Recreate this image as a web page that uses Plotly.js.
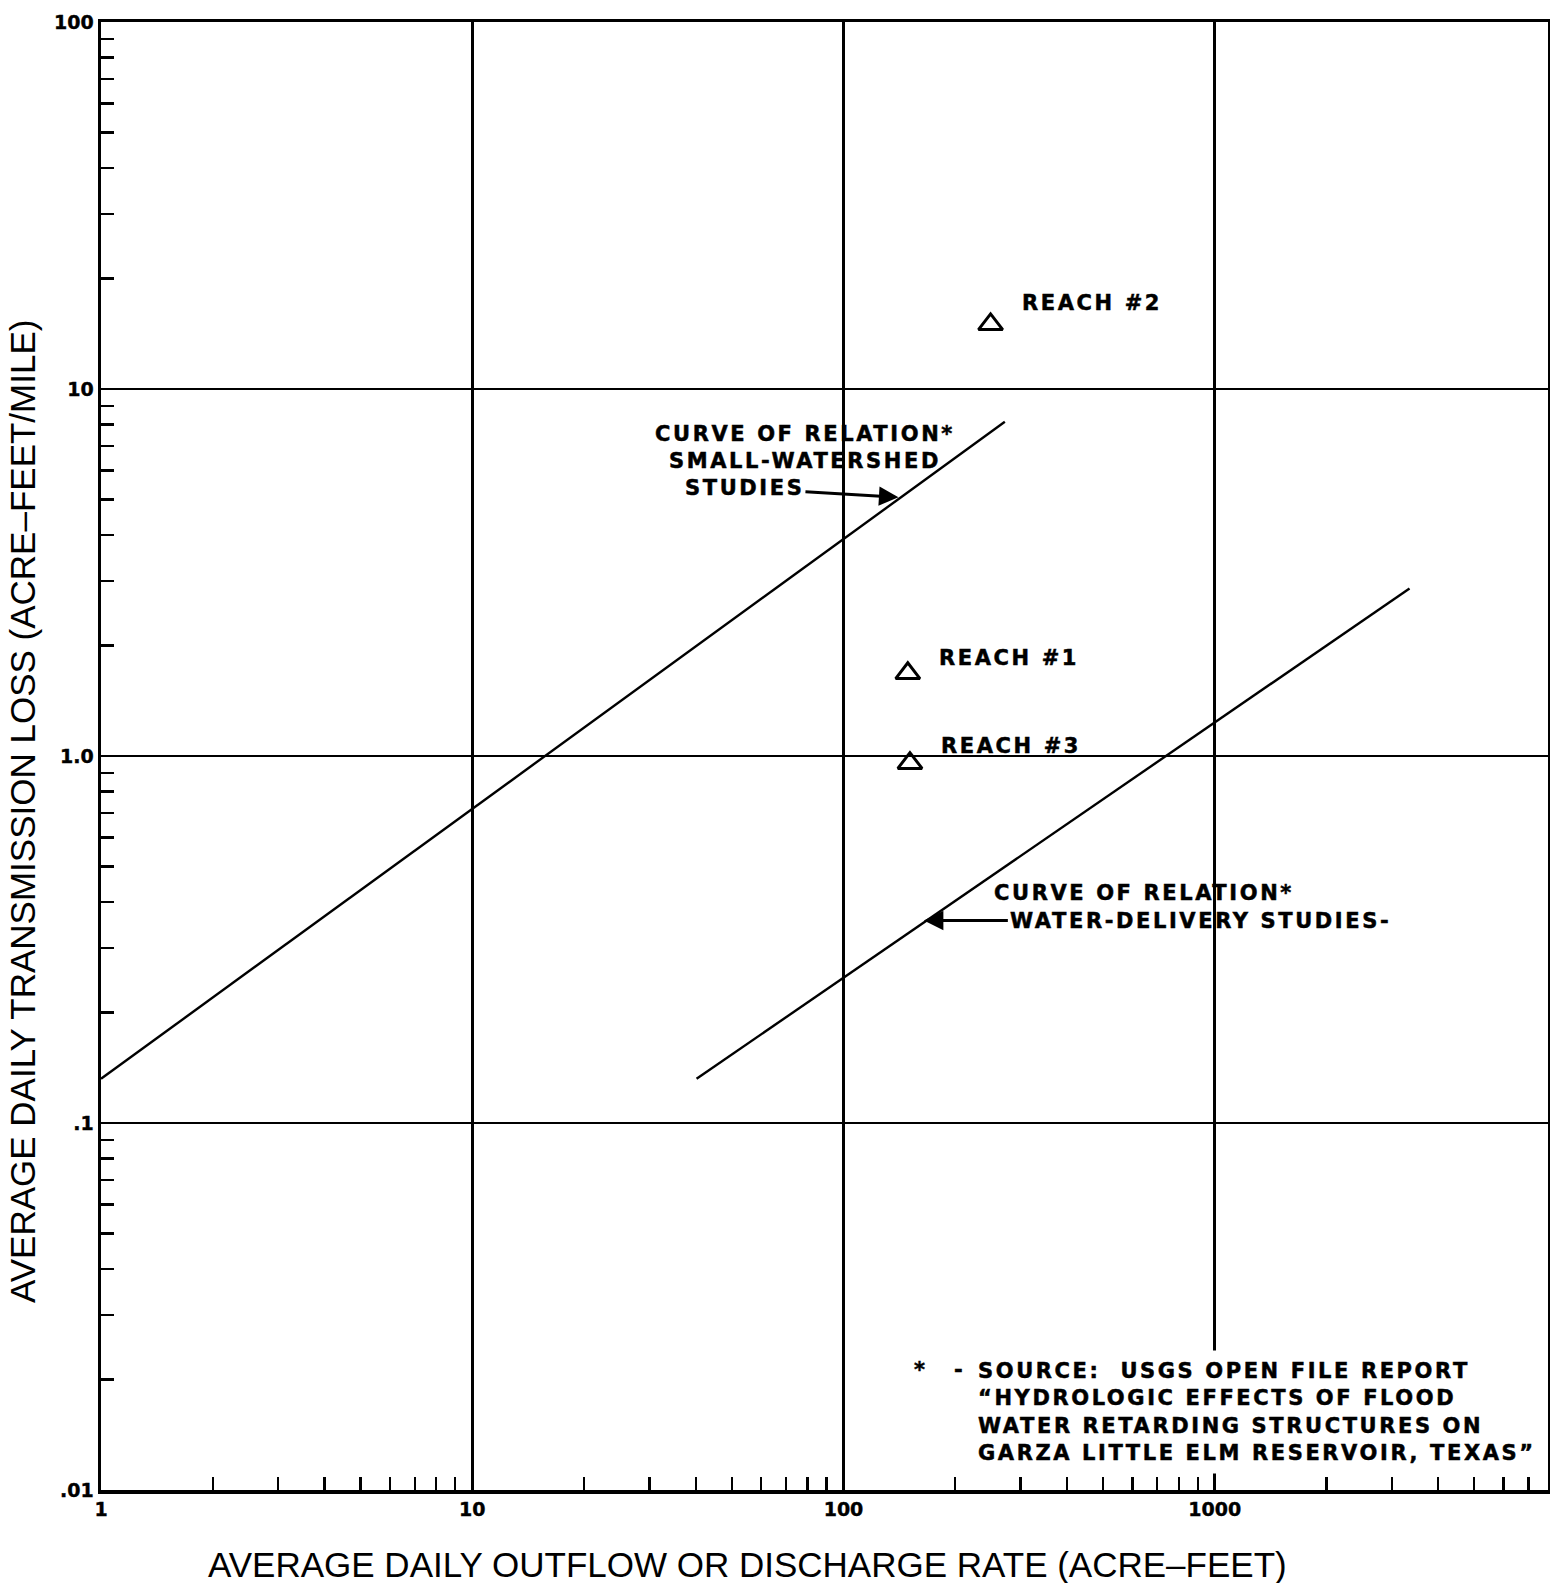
<!DOCTYPE html>
<html><head><meta charset="utf-8">
<script src="https://cdn.plot.ly/plotly-3.0.1.min.js"></script>
<style>
html,body{margin:0;padding:0;background:#fff;}
#chart{width:1550px;height:1583px;}
.annotation-text{letter-spacing:2.6px;stroke:#000;stroke-width:0.5px;}
.xtick text,.ytick text{stroke:#000;stroke-width:0.4px;}
</style></head><body><div id="chart"></div>
<script>
// ---- data ----
const smallWatershedX = [1, 272];
const smallWatershedY = [0.132, 8.14];
const waterDeliveryX = [40.2, 3347];
const waterDeliveryY = [0.132, 2.86];
const reachNames = ['REACH #1', 'REACH #2', 'REACH #3'];
const reachX = [149, 249, 151];
const reachY = [1.68, 15.0, 0.956];
const xTickVals = [1, 10, 100, 1000];
const xTickText = ['1', '10', '100', '1000'];
const yTickVals = [0.01, 0.1, 1, 10, 100];
const yTickText = ['.01', '.1', '1.0', '10', '100'];
const xTitle = 'AVERAGE DAILY OUTFLOW OR DISCHARGE RATE (ACRE\u2013FEET)';
const yTitle = 'AVERAGE DAILY TRANSMISSION LOSS (ACRE\u2013FEET/MILE)';
const smallLabel = ['CURVE OF RELATION*', 'SMALL-WATERSHED'];
const smallArrowText = 'STUDIES';
const waterLabel = 'CURVE OF RELATION*';
const waterArrowText = 'WATER-DELIVERY STUDIES-';
const sourceNote = ['SOURCE:\u00a0\u00a0USGS OPEN FILE REPORT', '\u201cHYDROLOGIC EFFECTS OF FLOOD', 'WATER RETARDING STRUCTURES ON', 'GARZA LITTLE ELM RESERVOIR, TEXAS\u201d'];
// annotation anchors (data values)
const smallArrowTip = [140.6, 5.07];
const waterArrowTip = [164.6, 0.356];

const L = Math.log10;
const F = 'DejaVu Sans, sans-serif';
const TF = 'Liberation Sans, Arial, sans-serif';
const black = '#000';

const minorX = [], minorY = [];
[1, 10, 100, 1000].forEach(d => { for (let k = 2; k <= 9; k++) minorX.push(d * k); });
[0.01, 0.1, 1, 10].forEach(d => { for (let k = 2; k <= 9; k++) minorY.push(d * k); });

const traces = [
  {x: smallWatershedX, y: smallWatershedY, mode: 'lines', line: {color: black, width: 2.4}, hoverinfo: 'skip'},
  {x: waterDeliveryX, y: waterDeliveryY, mode: 'lines', line: {color: black, width: 2.4}, hoverinfo: 'skip'},
  {x: reachX, y: reachY, mode: 'markers', text: reachNames,
   marker: {symbol: 'triangle-up-open', size: 21, color: black, line: {color: black, width: 3}}}
];

const labFont = {family: F, size: 21, color: black, weight: 'bold'};
const annotations = [];
// reach labels
reachNames.forEach((n, i) => annotations.push({
  x: L(reachX[i]), y: L(reachY[i]), xref: 'x', yref: 'y', text: n, showarrow: false,
  xanchor: 'left', yanchor: 'middle', xshift: 29, yshift: [15, 21, 17][i], font: labFont
}));
// small-watershed curve label
annotations.push({x: L(smallArrowTip[0]), y: L(smallArrowTip[1]), xref: 'x', yref: 'y',
  text: smallLabel.join('<br>'), showarrow: false, xanchor: 'center', yanchor: 'bottom',
  xshift: -93, yshift: 22, font: labFont});
annotations.push({x: L(smallArrowTip[0]), y: L(smallArrowTip[1]), xref: 'x', yref: 'y',
  text: smallArrowText, showarrow: true, arrowhead: 2, arrowsize: 1.3, arrowwidth: 3,
  arrowcolor: black, ax: -154, ay: -9, xanchor: 'center', yanchor: 'middle', font: labFont});
// water-delivery curve label
annotations.push({x: L(waterArrowTip[0]), y: L(waterArrowTip[1]), xref: 'x', yref: 'y',
  text: waterLabel, showarrow: false, xanchor: 'left', yanchor: 'middle',
  xshift: 68, yshift: 28, font: labFont});
annotations.push({x: L(waterArrowTip[0]), y: L(waterArrowTip[1]), xref: 'x', yref: 'y',
  text: waterArrowText, showarrow: true, arrowhead: 2, arrowsize: 1.3, arrowwidth: 3,
  arrowcolor: black, ax: 84, ay: 0, xanchor: 'left', yanchor: 'middle', font: labFont});
// source note
annotations.push({x: 2.339, y: -1.787, xref: 'x', yref: 'y', text: sourceNote.join('<br>'),
  showarrow: false, xanchor: 'left', yanchor: 'middle', align: 'left', bgcolor: '#fff',
  borderpad: 8, font: labFont});
annotations.push({x: 2.208, y: -1.672, xref: 'x', yref: 'y', text: '*', showarrow: false,
  xanchor: 'center', yanchor: 'middle', font: labFont});
annotations.push({x: 2.293, y: -1.672, xref: 'x', yref: 'y', text: '-', showarrow: false,
  xanchor: 'left', yanchor: 'middle', font: labFont});
// axis titles (plain letter spacing, no stroke)
const plain = s => '<span style="letter-spacing:0px;stroke-width:0px">' + s + '</span>';
annotations.push({xref: 'paper', yref: 'paper', x: 0.447, y: -0.051, text: plain(xTitle), showarrow: false,
  xanchor: 'center', yanchor: 'middle', font: {family: TF, size: 35, color: black}});
annotations.push({xref: 'paper', yref: 'paper', x: -0.0546, y: 0.4625, text: plain(yTitle), showarrow: false,
  textangle: -90, xanchor: 'center', yanchor: 'middle', font: {family: TF, size: 35, color: black}});

const tickFont = {family: F, size: 19, color: black, weight: 'bold'};
const axisBase = {
  type: 'log', tickmode: 'array', ticks: '', tickfont: tickFont,
  showgrid: true, gridcolor: black, gridwidth: 2.6,
  showline: true, linecolor: black, linewidth: 3.5, mirror: true, zeroline: false, automargin: false
};
const layout = {
  width: 1550, height: 1583,
  margin: {l: 101, r: 2, t: 22, b: 93},
  paper_bgcolor: '#fff', plot_bgcolor: '#fff',
  showlegend: false,
  xaxis: Object.assign({}, axisBase, {
    range: [0, L(7900)], tickvals: xTickVals, ticktext: xTickText,
    minor: {tickmode: 'array', tickvals: minorX, ticks: 'inside', ticklen: 13, tickwidth: 2.4, tickcolor: black, showgrid: false}
  }),
  yaxis: Object.assign({}, axisBase, {
    range: [-2, 2], tickvals: yTickVals, ticktext: yTickText,
    minor: {tickmode: 'array', tickvals: minorY, ticks: 'inside', ticklen: 13, tickwidth: 2.4, tickcolor: black, showgrid: false}
  }),
  annotations: annotations
};

Plotly.newPlot('chart', traces, layout, {displayModeBar: false, staticPlot: true});
</script></body></html>
